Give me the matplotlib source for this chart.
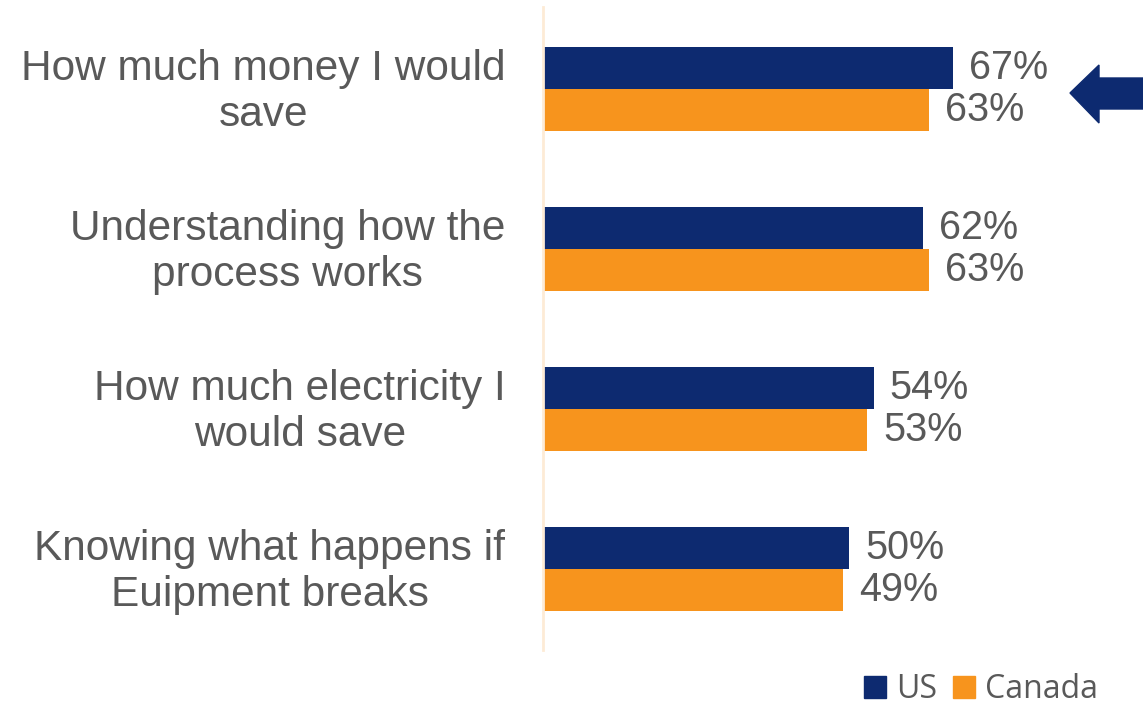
import matplotlib
matplotlib.use('Agg')
import matplotlib.pyplot as plt
import matplotlib.transforms as mtransforms
from matplotlib.patches import Polygon, Patch
import numpy as np

# data
categories = ['How much money I would\nsave',
              'Understanding how the\nprocess works',
              'How much electricity I\nwould save',
              'Knowing what happens if\nEuipment breaks']
us_values = [67, 62, 54, 50]
canada_values = [63, 63, 53, 49]

us_color = '#0D2A70'
canada_color = '#F7941D'
text_color = '#595959'

W, H = 1143, 707
fig = plt.figure(figsize=(W / 100, H / 100), dpi=100)
ax = fig.add_axes([543 / W, (H - 650) / H, 600 / W, 643 / H])

y = np.arange(len(categories))
bh = 0.2625
ax.barh(y - bh / 2, us_values, height=bh, color=us_color)
ax.barh(y + bh / 2, canada_values, height=bh, color=canada_color)

for i in range(len(categories)):
    ax.text(us_values[i] + 2.6, y[i] - bh / 2, f'{us_values[i]}%', va='center', ha='left',
            fontsize=28.5, color=text_color, family='Liberation Sans')
    ax.text(canada_values[i] + 2.6, y[i] + bh / 2, f'{canada_values[i]}%', va='center', ha='left',
            fontsize=28.5, color=text_color, family='Liberation Sans')

ax.set_xlim(0, 98)
ax.set_ylim(3.506, -0.5125)
ax.set_yticks(y)
ax.set_yticklabels(categories, fontsize=30.5, color=text_color, family='Liberation Sans',
                   linespacing=1.22, multialignment='center')
ax.tick_params(axis='y', length=0, pad=27)
# nudge the labels up a bit
shift = mtransforms.ScaledTranslation(0, 0.05, fig.dpi_scale_trans)
for lbl in ax.get_yticklabels():
    lbl.set_transform(lbl.get_transform() + shift)
ax.set_xticks([])
for s in ['top', 'right', 'bottom']:
    ax.spines[s].set_visible(False)
ax.spines['left'].set_color('#FDEBD6')
ax.spines['left'].set_linewidth(2)

# arrow pointing at the top group
pts = [(1070, 93), (1099, 65), (1099, 78), (1143, 78), (1143, 109), (1099, 109), (1099, 123)]
arrow = Polygon([(px / W, 1 - py / H) for px, py in pts], closed=True,
                transform=fig.transFigure, color=us_color)
fig.patches.append(arrow)

handles = [Patch(color=us_color, label='US'), Patch(color=canada_color, label='Canada')]
fig.legend(handles=handles, loc='lower right', bbox_to_anchor=(1117 / W, -0.026), ncol=2,
           frameon=False, borderpad=0.1, handlelength=0.68, handleheight=0.68,
           handletextpad=0.32, columnspacing=0.5,
           prop={'family': 'Open Sans', 'size': 23}, labelcolor=text_color)

fig.savefig('out.png', dpi=100)
